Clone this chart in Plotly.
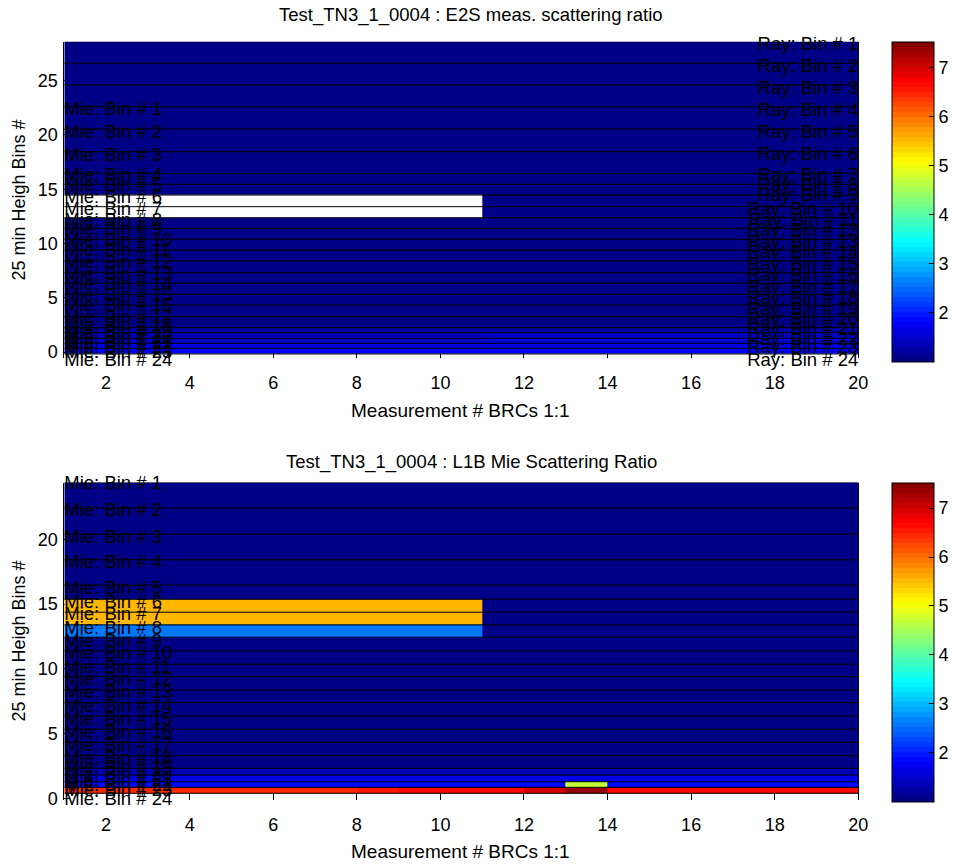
import plotly.graph_objects as go

W, H = 954, 865

# ---------------- data ----------------
x_edges = [1, 2, 3, 4, 5, 6, 7, 8, 9, 10, 11, 12, 13, 14, 15, 16, 17, 18, 19, 20]
x_ticks = [2, 4, 6, 8, 10, 12, 14, 16, 18, 20]
top_y_ticks = [0, 5, 10, 15, 20, 25]
bot_y_ticks = [0, 5, 10, 15, 20]
cbar_ticks = [2, 3, 4, 5, 6, 7]
c_min, c_max = 1.0, 7.52

# Rayleigh bin boundaries (top panel), top -> bottom
ray_edges = [28.58, 26.59, 24.59, 22.59, 20.54, 18.45, 16.46, 15.45, 14.46, 13.39,
             12.37, 11.40, 10.39, 9.40, 8.39, 7.31, 6.34, 5.32, 4.33, 3.26,
             2.25, 1.79, 1.27, 0.81, 0.35, -0.17]
# Mie bin boundaries (bottom panel), top -> bottom
mie_edges = [24.40, 22.42, 20.41, 18.43, 16.47, 15.39, 14.38, 13.40, 12.45, 11.39,
             10.36, 9.40, 8.37, 7.39, 6.36, 5.34, 4.33, 3.29, 2.32, 1.80,
             1.28, 0.85, 0.39]

NAN = None
D = 1.05  # background scattering ratio (dark blue)

# E2S measured scattering ratio, rows top -> bottom, 19 measurement columns
e2s_rows = [
    [D] * 19, [D] * 19, [D] * 19, [D] * 19, [D] * 19,
    [D] * 19, [D] * 19, [D] * 19,
    [NAN] * 10 + [D] * 9,
    [NAN] * 10 + [D] * 9,
    [D] * 19, [D] * 19, [D] * 19, [D] * 19, [D] * 19,
    [D] * 19, [D] * 19, [D] * 19, [D] * 19,
    [D] * 19,
    [1.22] * 10 + [1.28] * 9,
    [1.38] * 10 + [1.42] * 9,
    [1.50] * 10 + [1.55] * 9,
    [1.62] * 10 + [1.66] * 9,
    [1.75] * 10 + [1.78] * 9,
]

# L1B Mie scattering ratio, rows top -> bottom
l1b_rows = [
    [D] * 19, [D] * 19, [D] * 19, [D] * 19, [D] * 19,
    [5.55] * 10 + [D] * 9,
    [5.55] * 10 + [D] * 9,
    [2.62] * 10 + [D] * 9,
    [D] * 19, [D] * 19, [D] * 19, [D] * 19, [D] * 19,
    [D] * 19, [D] * 19, [D] * 19, [D] * 19,
    [D] * 19,
    [1.40] * 19,
    [1.65] * 19,
    [1.88] * 12 + [4.72] + [1.88] * 6,
    [6.45] * 7 + [6.55] + [6.65] * 3 + [6.96] + [7.37] + [6.65] + [6.62] * 5,
]

top_mie_label_y = [22.29, 20.15, 18.06, 16.16, 15.24, 14.17, 13.09, 12.02, 11.25, 10.17,
                   9.25, 8.18, 7.10, 6.18, 5.10, 4.18, 3.11, 2.34, 1.73, 1.27,
                   0.81, 0.35, -0.11, -0.88]
top_ray_label_y = [28.28, 26.22, 24.20, 22.20, 20.15, 18.08, 16.16, 15.24, 14.32, 13.08,
                   12.01, 11.09, 10.02, 9.10, 8.02, 6.94, 5.87, 4.86, 3.88, 2.96,
                   2.04, 1.12, 0.35, -0.88]
bot_mie_label_y = [24.23, 22.16, 20.10, 18.12, 16.18, 15.08, 14.12, 13.02, 12.04, 11.09,
                   10.06, 9.10, 8.07, 7.04, 6.01, 5.03, 3.99, 3.02, 2.32, 1.80,
                   1.28, 0.90, 0.51, -0.13]
bin_numbers = list(range(1, 25))

titles = ["Test_TN3_1_0004 : E2S meas. scattering ratio",
          "Test_TN3_1_0004 : L1B Mie Scattering Ratio"]
x_title = "Measurement # BRCs 1:1"
y_title = "25 min Heigh Bins #"

# ---------------- styling helpers ----------------
FONT = "Liberation Sans, Arial, Helvetica, sans-serif"


def jet(k, n=64):
    # MATLAB jet colormap entry k = 0..n-1
    t = (k + 0.5) / n
    r = min(max(min(4 * t - 1.5, -4 * t + 4.5), 0), 1)
    g = min(max(min(4 * t - 0.5, -4 * t + 3.5), 0), 1)
    b = min(max(min(4 * t + 0.5, -4 * t + 2.5), 0), 1)
    return "rgb(%d,%d,%d)" % (round(r * 255), round(g * 255), round(b * 255))


jet_scale = []
for k in range(64):
    c = jet(k)
    jet_scale.append([k / 64, c])
    jet_scale.append([(k + 1) / 64, c])


def px2x(p):
    return p / W


def px2y(p):
    return 1 - p / H


plot_x0, plot_x1 = 64.3, 858.3
top_px = (41.7, 358.3)      # pixel rows (top, bottom) of upper axes
bot_px = (482.5, 800.0)
top_range = [-0.57, 28.58]
bot_range = [-0.13, 24.40]


def extended(px, rng, up, down):
    # an invisible axis sharing the same data->pixel scale, but taller,
    # so that bin labels hanging below the axes are not hidden
    s = (px[1] - px[0]) / (rng[1] - rng[0])
    dom = [px2y(px[1] + down), px2y(px[0] - up)]
    r = [rng[0] - down / s, rng[1] + up / s]
    return dom, r


top_ext_dom, top_ext_rng = extended(top_px, top_range, 20, 25)
bot_ext_dom, bot_ext_rng = extended(bot_px, bot_range, 20, 25)

fig = go.Figure()

panels = [
    dict(rows=e2s_rows, edges=ray_edges, xa="x", ya="y", cb=(41.7, 361.7)),
    dict(rows=l1b_rows, edges=mie_edges, xa="x2", ya="y2", cb=(482.7, 801.7)),
]

for p in panels:
    edges_up = list(reversed(p["edges"]))
    z_up = list(reversed(p["rows"]))
    cb_top, cb_bot = p["cb"]
    fig.add_trace(go.Heatmap(
        x=x_edges, y=edges_up, z=z_up,
        zmin=c_min, zmax=c_max, colorscale=jet_scale,
        xaxis=p["xa"], yaxis=p["ya"], hoverinfo="skip",
        colorbar=dict(
            x=px2x(891.7), xanchor="left", thickness=42, thicknessmode="pixels",
            y=px2y((cb_top + cb_bot) / 2), yanchor="middle",
            len=(cb_bot - cb_top) / H, lenmode="fraction",
            outlinewidth=1, outlinecolor="black",
            tickvals=cbar_ticks, ticks="inside", ticklen=5, tickcolor="black",
            tickfont=dict(family=FONT, size=18, color="black"),
            xpad=0, ypad=0,
        ),
    ))
    lx, ly = [], []
    for e in p["edges"]:
        lx += [x_edges[0], x_edges[-1], None]
        ly += [e, e, None]
    fig.add_trace(go.Scatter(x=lx, y=ly, mode="lines", line=dict(color="black", width=1),
                             xaxis=p["xa"], yaxis=p["ya"], hoverinfo="skip", showlegend=False))

tf = dict(family=FONT, size=18.5, color="black")
label_sets = [
    ("Mie: Bin # %d", top_mie_label_y, x_edges[0], "middle right", "x", "y3"),
    ("Ray: Bin # %d", top_ray_label_y, x_edges[-1], "middle left", "x", "y3"),
    ("Mie: Bin # %d", bot_mie_label_y, x_edges[0], "middle right", "x2", "y4"),
]
for fmt, ys, xv, pos, xa, ya in label_sets:
    fig.add_trace(go.Scatter(
        x=[xv] * len(ys), y=ys, mode="text", text=[fmt % n for n in bin_numbers],
        textposition=pos, textfont=tf, cliponaxis=False, xaxis=xa, yaxis=ya,
        hoverinfo="skip", showlegend=False,
    ))

xaxis_common = dict(
    showgrid=False, zeroline=False, ticks="inside", ticklen=6, tickcolor="black",
    showline=False, layer="below traces", range=[1, 20], tickvals=x_ticks,
    domain=[px2x(plot_x0), px2x(plot_x1)], ticklabelstandoff=12,
    tickfont=dict(family=FONT, size=18, color="black"),
)
yaxis_common = dict(
    showgrid=False, zeroline=False, ticks="inside", ticklen=6, tickcolor="black",
    showline=True, linecolor="black", linewidth=1, mirror=True, layer="below traces",
    ticklabelstandoff=2, tickfont=dict(family=FONT, size=18, color="black"),
)
hidden = dict(visible=False, showgrid=False, zeroline=False, fixedrange=True)

fig.update_layout(
    width=W, height=H, margin=dict(l=0, r=0, t=0, b=0, autoexpand=False),
    paper_bgcolor="white", plot_bgcolor="rgba(0,0,0,0)", showlegend=False,
    font=dict(family=FONT, size=18, color="black"),
    xaxis=dict(anchor="y", **xaxis_common),
    yaxis=dict(domain=[px2y(top_px[1]), px2y(top_px[0])], range=top_range,
               tickvals=top_y_ticks, anchor="x", **yaxis_common),
    xaxis2=dict(anchor="y2", **xaxis_common),
    yaxis2=dict(domain=[px2y(bot_px[1]), px2y(bot_px[0])], range=bot_range,
                tickvals=bot_y_ticks, anchor="x2", **yaxis_common),
    yaxis3=dict(domain=top_ext_dom, range=top_ext_rng, anchor="x", **hidden),
    yaxis4=dict(domain=bot_ext_dom, range=bot_ext_rng, anchor="x2", **hidden),
)

ann = []
title_font = dict(family=FONT, size=18.5, color="black")
xlab_font = dict(family=FONT, size=19, color="black")
ylab_font = dict(family=FONT, size=18, color="black")
for t, ty in zip(titles, [15, 462]):
    ann.append(dict(x=px2x(471), y=px2y(ty), xref="paper", yref="paper", text=t,
                    showarrow=False, xanchor="center", yanchor="middle", font=title_font))
for ty in [410, 851]:
    ann.append(dict(x=px2x(460), y=px2y(ty), xref="paper", yref="paper", text=x_title,
                    showarrow=False, xanchor="center", yanchor="middle", font=xlab_font))
for ty in [200, 641]:
    ann.append(dict(x=px2x(18.5), y=px2y(ty), xref="paper", yref="paper", text=y_title,
                    showarrow=False, xanchor="center", yanchor="middle", textangle=-90,
                    font=ylab_font))

fig.update_layout(annotations=ann)
fig.write_html("out.html")
